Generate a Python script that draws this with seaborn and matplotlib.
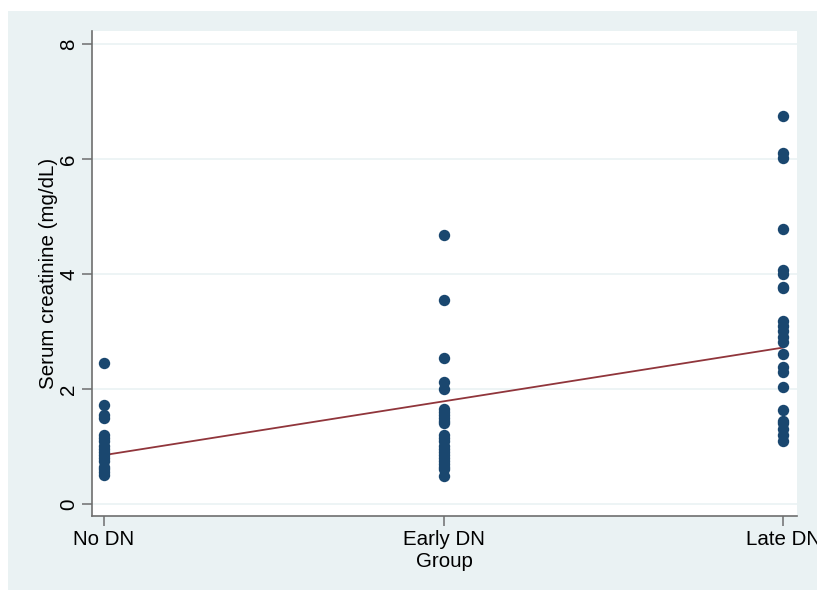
import numpy as np
import pandas as pd
import matplotlib
matplotlib.use("Agg")
import matplotlib.pyplot as plt
import seaborn as sns
from matplotlib.patches import Rectangle

# Group labels and values
groups = ["No DN", "Early DN", "Late DN"]

no_dn = [2.45, 1.72, 1.55, 1.50, 1.20, 1.15, 1.10, 1.00, 0.95, 0.90,
         0.85, 0.80, 0.75, 0.65, 0.60, 0.55, 0.50]
early_dn = [4.68, 3.55, 2.54, 2.12, 2.00, 1.65, 1.60, 1.55, 1.50, 1.45,
            1.40, 1.20, 1.15, 1.10, 1.00, 0.95, 0.90, 0.85, 0.80, 0.75,
            0.70, 0.65, 0.60, 0.48]
late_dn = [6.75, 6.10, 6.02, 4.78, 4.07, 4.00, 3.78, 3.75, 3.18, 3.10,
           3.00, 2.90, 2.82, 2.60, 2.38, 2.30, 2.03, 1.63, 1.45, 1.40,
           1.30, 1.20, 1.10]

# fitted values of the linear trend at each group
fit_vals = [0.85, 1.785, 2.72]

y_ticks = [0, 2, 4, 6, 8]

df = pd.DataFrame({
    "group": ["No DN"] * len(no_dn) + ["Early DN"] * len(early_dn) + ["Late DN"] * len(late_dn),
    "value": no_dn + early_dn + late_dn,
})
fit_df = pd.DataFrame({"pos": [0, 1, 2], "fit": fit_vals})

sns.set_style("white")
plt.rcParams["font.family"] = ["Liberation Sans", "DejaVu Sans"]
plt.rcParams["text.color"] = "black"
plt.rcParams["axes.labelcolor"] = "black"

bg = "#EAF2F3"
fs = 14.8
fig = plt.figure(figsize=(8.17, 5.92), dpi=100)
fig.patch.set_facecolor("white")
fig.patches.append(Rectangle((8 / 817, 2 / 592), 1, 579 / 592, transform=fig.transFigure,
                             facecolor=bg, edgecolor="none", zorder=-10))

ax = fig.add_axes([92 / 817, 1 - 516 / 592, 705 / 817, 485 / 592])
ax.set_facecolor("white")

sns.stripplot(data=df, x="group", y="value", order=groups, jitter=False,
              color="#1A476F", size=8.2, linewidth=0, ax=ax, zorder=3)
sns.lineplot(data=fit_df, x="pos", y="fit", color="#90353B", linewidth=1.3, ax=ax, zorder=2)

ax.set_xlim(-0.0353, 2.041)
ax.set_ylim(-0.209, 8.226)
ax.set_yticks(y_ticks)
ax.set_yticklabels([str(t) for t in y_ticks], rotation=90, va="center")
ax.grid(axis="y", color=bg, linewidth=1.2)
ax.set_axisbelow(True)

for side in ["top", "right"]:
    ax.spines[side].set_visible(False)
for side in ["left", "bottom"]:
    ax.spines[side].set_color("#6E6E6E")
    ax.spines[side].set_linewidth(1.2)

ax.tick_params(axis="both", direction="out", length=7, width=1.1, color="#6E6E6E",
               labelsize=fs, pad=3, left=True, bottom=True, labelcolor="black")
ax.set_xlabel("Group", fontsize=fs, labelpad=2, color="black")
ax.set_ylabel("Serum creatinine (mg/dL)", fontsize=fs, labelpad=1, color="black")

fig.savefig("out.png", dpi=100)
